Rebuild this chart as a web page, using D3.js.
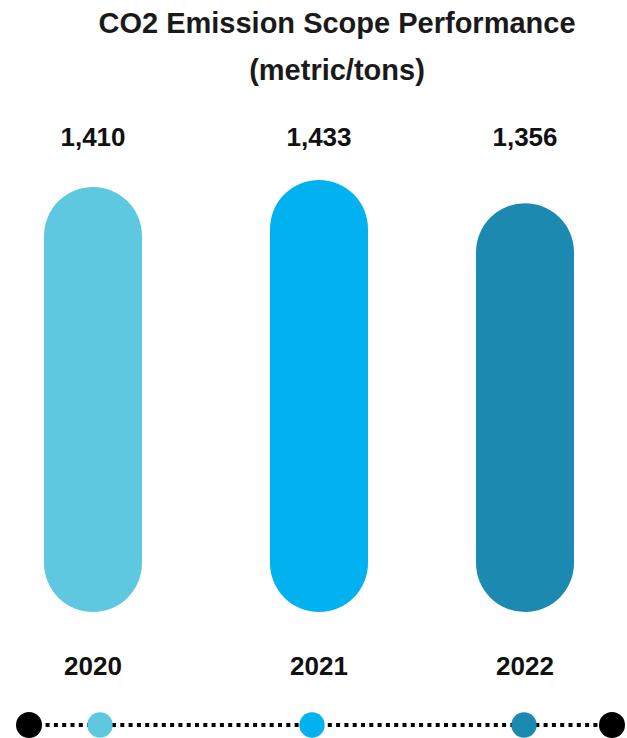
<!DOCTYPE html>
<html>
<head>
<meta charset="utf-8">
<script src="https://cdn.jsdelivr.net/npm/d3@7"></script>
<style>
  html, body { margin: 0; padding: 0; background: #fff; }
  svg { display: block; font-family: "Liberation Sans", Arial, Helvetica, sans-serif; }
</style>
</head>
<body>
<svg id="chart" width="627" height="738"></svg>
<script>
// ---- data ----
const years = ["2020", "2021", "2022"];
const values = [1410, 1433, 1356];
const colors = ["#5DC8E0", "#02B1EF", "#1C8AB0"];
const titleLines = ["CO2 Emission Scope Performance", "(metric/tons)"];

// ---- layout ----
const svg = d3.select("#chart");
const barW = 98;
const baseY = 612;

// bar centres (slightly uneven)
const centers = { "2020": 93, "2021": 319, "2022": 525 };
const y = d3.scaleLinear().domain([0, d3.max(values)]).range([baseY, 180]);

// title
svg.append("g").selectAll("text").data(titleLines).join("text")
  .attr("x", 337)
  .attr("y", (d, i) => i === 0 ? 33 : 80)
  .attr("text-anchor", "middle")
  .attr("font-size", 29)
  .attr("font-weight", "bold")
  .attr("fill", "#1a1a1a")
  .text(d => d);

// pill bars
function pill(cx, top, bottom, w) {
  const r = w / 2;
  const x0 = cx - r, x1 = cx + r;
  return `M${x0},${top + r} A${r},${r} 0 0 1 ${x1},${top + r} L${x1},${bottom - r} A${r},${r} 0 0 1 ${x0},${bottom - r} Z`;
}
const data = years.map((yr, i) => ({ year: yr, value: values[i], color: colors[i] }));

svg.append("g").selectAll("path").data(data).join("path")
  .attr("d", d => pill(centers[d.year], y(d.value), baseY, barW))
  .attr("fill", d => d.color);

// value labels
svg.append("g").selectAll("text").data(data).join("text")
  .attr("x", d => centers[d.year])
  .attr("y", 146)
  .attr("text-anchor", "middle")
  .attr("font-size", 26)
  .attr("font-weight", "bold")
  .attr("fill", "#111")
  .text(d => d3.format(",")(d.value));

// year labels
svg.append("g").selectAll("text").data(data).join("text")
  .attr("x", d => centers[d.year])
  .attr("y", 675)
  .attr("text-anchor", "middle")
  .attr("font-size", 26)
  .attr("font-weight", "bold")
  .attr("fill", "#111")
  .text(d => d.year);

// timeline
const lineY = 725;
const leftEnd = 29, rightEnd = 612;
const dotX = d3.scalePoint().domain(years).range([100, 524]);
svg.append("line")
  .attr("x1", leftEnd).attr("x2", rightEnd)
  .attr("y1", lineY).attr("y2", lineY)
  .attr("stroke", "#000")
  .attr("stroke-width", 4)
  .attr("stroke-dasharray", "4 4.3");

svg.append("g").selectAll("circle").data([leftEnd, rightEnd]).join("circle")
  .attr("cx", d => d).attr("cy", lineY).attr("r", 13).attr("fill", "#000");

svg.append("g").selectAll("circle").data(data).join("circle")
  .attr("cx", d => dotX(d.year)).attr("cy", lineY).attr("r", 12.7)
  .attr("fill", d => d.color);
</script>
</body>
</html>
